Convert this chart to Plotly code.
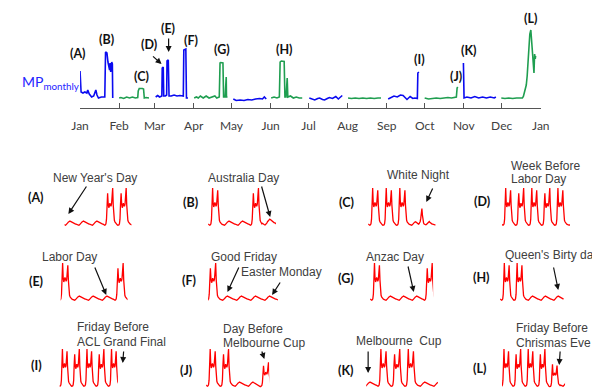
import plotly.graph_objects as go

W, H = 600, 389
OFF = 8  # page body margin of the exported html

# ---------------- top panel data (day of year, MP value) ----------------
MONTH_TICKS = [0, 31, 59, 90, 120, 151, 181, 212, 243, 273, 304, 334, 365]
MONTH_LABELS = ["Jan", "Feb", "Mar", "Apr", "May", "Jun", "Jul", "Aug", "Sep", "Oct", "Nov", "Dec", "Jan"]

JAN_DAY = [0, 0.8, 2.3, 3.8, 5.4, 6.1, 7.3, 9.2, 10.8, 12.5, 13.4, 14.6, 16.9, 19.6, 20.2, 21.3, 22.1, 22.8, 23.4, 23.8, 24.3, 25.1, 25.6, 25.9]
JAN_MP = [37, 16, 15, 16, 15, 18, 14, 11, 12, 18, 13, 10, 11, 11, 56, 55, 46, 43, 38, 45, 36, 46, 44, 10]
FEB_DAY = [31, 32.3, 34.6, 36.9, 39.2, 41.5, 43.8, 45.7, 46.1, 46.9, 49.4, 50.3, 50.9, 52.3, 54.6]
FEB_MP = [10, 10.5, 9.5, 11, 10, 11, 10, 10.5, 17, 19.5, 19.5, 19, 10, 10.5, 10]
MAR_DAY = [59.9, 61.5, 63, 64.2, 64.8, 65.1, 65.9, 66.3, 67.6, 68.6, 68.9, 69.9, 70.5, 72.2, 74.5, 76.8, 79.1, 81.8, 82.2, 83.8, 84.3, 85.5]
MAR_MP = [11, 12.5, 11, 12, 12, 40, 41, 12, 12, 13, 47, 48, 12, 12, 13, 12, 12.5, 12, 58, 59, 10, 10]
APR_DAY = [90.4, 92.2, 93.7, 95.3, 97.6, 99.9, 102.2, 104.5, 106.8, 108.3, 110.3, 110.9, 111.4, 113.2, 113.7, 114.9, 115.3, 115.8, 116.0, 116.8]
APR_MP = [10, 11, 10, 12, 10, 12, 10, 11, 12, 10, 11, 45, 45.5, 45, 11, 11, 31, 31, 11, 11]
MAY_DAY = [121.4, 123.7, 126.8, 129.9, 132.9, 136, 139.1, 142.2, 144.5, 146, 147.5]
MAY_MP = [9, 7.5, 8, 7.5, 8.5, 8, 9, 9.5, 9, 11, 9]
JUN_DAY = [151.4, 153.7, 156, 157.9, 158.5, 159.4, 161.7, 162.3, 163.2, 163.6, 164.1, 164.6, 166.7, 169, 171.3, 173.6, 176]
JUN_MP = [10, 11, 10, 11, 46, 47, 46.5, 11, 11, 30, 30, 11, 12, 10, 11, 10, 10]
JUL_DAY = [181.6, 183.6, 185.9, 188.3, 189.8, 192.1, 193.7, 195.9, 197.5, 200, 202.6, 204.6, 206.5, 207.7]
JUL_MP = [10, 9, 8, 9.5, 10, 8.5, 8, 9.5, 10.5, 9.5, 11.5, 9, 11.5, 12.5]
AUG_DAY = [212.3, 215, 218, 221, 224, 227, 230, 233, 236, 238.4]
AUG_MP = [10, 9.5, 10, 9.5, 10, 9.5, 10, 9.5, 10, 10]
SEP_DAY = [244.1, 246.1, 248.7, 251.3, 253.8, 255.9, 257.4, 259, 261.5, 263.6, 265.3, 267.2, 267.6, 268.4]
SEP_MP = [9, 10.5, 12, 11, 13, 12.5, 11, 8.5, 11.5, 9.5, 10, 9.5, 35, 36]
OCT_DAY = [273, 276.1, 279.2, 282.2, 285.3, 288.3, 291.4, 294.3, 296.6, 298.1, 298.7, 299.2]
OCT_MP = [10, 9, 9.5, 10, 9.5, 10, 10.5, 10, 11, 11, 20, 21]
NOV_DAY = [303.7, 304.2, 306.5, 309.7, 312.7, 315.8, 318.9, 321.9, 325, 328.1, 329.4]
NOV_MP = [45, 10, 11, 10, 11.5, 10, 11, 10, 11, 10, 11]
DEC_DAY = [333.7, 336.6, 339.6, 342.7, 345.8, 348.9, 350.4, 351.2, 352.5, 353.5, 354.2, 355.0, 355.8, 356.3, 357.1, 357.5, 357.8, 358.3, 358.8, 359.2, 359.6, 360.1, 360.6, 360.9]
DEC_MP = [10, 9.5, 10, 9.5, 10, 9.5, 10, 11.5, 19.5, 23, 32, 50, 66, 74, 78, 72, 64, 57, 50, 42, 35, 54, 49, 52]

BLUE = "#0a0af0"
GREEN = "#1f9e50"
SEGMENTS = [
    (JAN_DAY, JAN_MP, BLUE), (FEB_DAY, FEB_MP, GREEN), (MAR_DAY, MAR_MP, BLUE),
    (APR_DAY, APR_MP, GREEN), (MAY_DAY, MAY_MP, BLUE), (JUN_DAY, JUN_MP, GREEN),
    (JUL_DAY, JUL_MP, BLUE), (AUG_DAY, AUG_MP, GREEN), (SEP_DAY, SEP_MP, BLUE),
    (OCT_DAY, OCT_MP, GREEN), (NOV_DAY, NOV_MP, BLUE), (DEC_DAY, DEC_MP, GREEN),
]

# ---------------- bottom panels: hourly day profiles ----------------
WORK_A = [0.05, 0.03, 0.02, 0.02, 0.03, 0.06, 0.18, 0.62, 1.00, 0.60, 0.50, 0.55, 0.62, 0.58, 0.52, 0.56, 0.78, 0.94, 0.55, 0.25, 0.15, 0.11, 0.08, 0.06]
WORK_B = [0.05, 0.03, 0.02, 0.02, 0.03, 0.06, 0.18, 0.60, 0.86, 0.58, 0.48, 0.52, 0.60, 0.56, 0.52, 0.58, 0.80, 1.00, 0.55, 0.25, 0.15, 0.11, 0.08, 0.06]
REST = [0.05, 0.04, 0.03, 0.02, 0.02, 0.02, 0.03, 0.04, 0.06, 0.08, 0.10, 0.12, 0.13, 0.13, 0.12, 0.11, 0.10, 0.09, 0.08, 0.07, 0.07, 0.06, 0.06, 0.05]
WN_SAT = [0.05, 0.04, 0.03, 0.02, 0.02, 0.02, 0.03, 0.04, 0.06, 0.08, 0.10, 0.11, 0.11, 0.10, 0.08, 0.06, 0.05, 0.05, 0.06, 0.08, 0.12, 0.20, 0.32, 0.46]
WN_SUN = [0.28, 0.14, 0.08, 0.05, 0.04, 0.03, 0.03, 0.04, 0.06, 0.09, 0.11, 0.12, 0.12, 0.10, 0.08, 0.07, 0.06, 0.05, 0.05, 0.04, 0.04, 0.04, 0.03, 0.03]
SHAPES = {"WA": WORK_A, "WB": WORK_B, "R": REST, "WNS": WN_SAT, "WNU": WN_SUN}

PANEL_A = [("R", 1.0), ("R", 1.0), ("R", 1.0), ("WB", 1.0), ("WB", 1.0), ("R", 1.0)]
PANEL_B = [("WA", 1.0), ("R", 1.0), ("R", 1.0), ("WB", 1.0), ("R", 1.4), ("R", 1.0)]
PANEL_C = [("WA", 1.0), ("WA", 1.0), ("WA", 1.0), ("WNS", 1.0), ("WNU", 1.0)]
PANEL_D = [("WA", 1.0), ("WB", 1.0), ("WA", 1.0), ("WB", 1.0), ("WA", 1.0), ("R", 1.0)]
PANEL_E = [("WA", 1.0), ("R", 1.0), ("R", 1.0), ("R", 1.0), ("WB", 1.0), ("R", 1.0)]
PANEL_F = [("WB", 1.0), ("R", 1.0), ("R", 1.0), ("R", 1.0), ("R", 1.0), ("R", 1.0)]
PANEL_G = [("WA", 1.0), ("R", 1.0), ("R", 1.0), ("R", 1.0), ("WB", 1.0)]
PANEL_H = [("WA", 1.0), ("WA", 1.0), ("R", 1.0), ("R", 1.0), ("R", 1.0)]
PANEL_I = [("WA", 1.0), ("WB", 1.0), ("WA", 1.0), ("WB", 1.0), ("WA", 1.0)]
PANEL_J = [("WA", 1.0), ("WB", 1.0), ("R", 1.0), ("R", 1.0), ("WB", 0.65)]
PANEL_K = [("R", 1.0), ("WA", 1.0), ("WB", 1.0), ("WA", 1.0), ("R", 1.0), ("R", 1.0)]
PANEL_L = [("WA", 1.0), ("WB", 1.0), ("WA", 1.0), ("WB", 1.0), ("WA", 0.6), ("R", 1.0)]

PANELS = [
    (PANEL_A, (0.14, 5.1), (57, 126), 0), (PANEL_B, (0.0, 5.0), (205, 275), 0),
    (PANEL_C, (0.0, 5.0), (370, 440), 0), (PANEL_D, (0.05, 5.25), (508, 578), 0),
    (PANEL_E, (0.19, 5.03), (53, 122), 1), (PANEL_F, (0.17, 5.13), (205, 277), 1),
    (PANEL_G, (0.0, 4.78), (372, 437), 1), (PANEL_H, (0.0, 5.0), (506, 572), 1),
    (PANEL_I, (0.11, 4.85), (52, 112), 2), (PANEL_J, (0.03, 4.76), (203, 268), 2),
    (PANEL_K, (0.26, 5.5), (368, 442), 2), (PANEL_L, (0.17, 5.37), (508, 573), 2),
]
ROWS = [(188, 226), (263, 301), (349, 387)]  # (peak pixel, base pixel)


def px(x):
    return (x - OFF) / W


def py(y):
    return 1 - (y - OFF) / H


fig = go.Figure()

for xs, ys, col in SEGMENTS:
    fig.add_trace(go.Scatter(x=xs, y=ys, mode="lines", line=dict(color=col, width=1.6),
                             xaxis="x", yaxis="y", showlegend=False, hoverinfo="skip"))

layout_axes = {}
for i, (seq, rng, (x0, x1), row) in enumerate(PANELS):
    n = i + 2
    xs, ys = [], []
    for d, (name, sc) in enumerate(seq):
        for h, v in enumerate(SHAPES[name]):
            xs.append(d + h / 24)
            ys.append(v * sc)
    fig.add_trace(go.Scatter(x=xs, y=ys, mode="lines", line=dict(color="#ff0000", width=1.3),
                             xaxis=f"x{n}", yaxis=f"y{n}", showlegend=False, hoverinfo="skip"))
    top, base = ROWS[row]
    hgt = base - top
    bot_px = min(base + 0.1 * hgt, H + OFF)
    top_px = top - 0.1 * hgt
    lo = -(bot_px - base) / hgt
    hi = 1 + (top - top_px) / hgt
    layout_axes[f"xaxis{n}"] = dict(domain=[px(x0), px(x1)], range=list(rng), visible=False,
                                    anchor=f"y{n}", fixedrange=True)
    layout_axes[f"yaxis{n}"] = dict(domain=[max(0.0, py(bot_px)), py(top_px)],
                                    range=[lo, hi], visible=False, anchor=f"x{n}", fixedrange=True)

fig.update_layout(
    width=W, height=H, margin=dict(l=0, r=0, t=0, b=0),
    paper_bgcolor="white", plot_bgcolor="white", showlegend=False,
    xaxis=dict(domain=[px(73), px(548)], range=[0, 365], showline=True, linecolor="#555555",
               linewidth=1.3, ticks="inside", ticklen=5, tickcolor="#555555", tickwidth=1.3,
               tickvals=MONTH_TICKS, ticktext=MONTH_LABELS, showgrid=False, zeroline=False,
               tickfont=dict(family="Lato", size=12, color="#404040"), ticklabelstandoff=6,
               fixedrange=True, anchor="y"),
    yaxis=dict(domain=[py(108), py(8)], range=[0, 100], visible=False, fixedrange=True, anchor="x"),
    **layout_axes,
)

anns = []


def label(x, y, text, size=12.5):
    anns.append(dict(x=px(x), y=py(y), xref="paper", yref="paper", text=f"<b>{text}</b>",
                     showarrow=False, font=dict(family="Lato", size=size, color="#111111"),
                     xanchor="center", yanchor="middle"))


def note(x, y, text, anchor="center"):
    anns.append(dict(x=px(x), y=py(y), xref="paper", yref="paper", text=text, showarrow=False,
                     font=dict(family="Liberation Sans", size=12, color="#404040"),
                     xanchor=anchor, yanchor="middle"))


def arrow(tx, ty, hx, hy):
    anns.append(dict(x=px(hx), y=py(hy), xref="paper", yref="paper", text="", showarrow=True,
                     ax=tx - hx, ay=ty - hy, arrowhead=2, arrowsize=1, arrowwidth=1.2,
                     arrowcolor="#111111", standoff=0, startstandoff=0))


TOP_LABELS = [("(A)", 71, 53), ("(B)", 100, 39), ("(C)", 136, 77), ("(D)", 144, 45), ("(E)", 164, 29),
              ("(F)", 187, 40), ("(G)", 219, 49), ("(H)", 284, 50), ("(I)", 423, 60), ("(J)", 461, 77),
              ("(K)", 473, 51), ("(L)", 537, 19)]
for t, x, y in TOP_LABELS:
    label(x, y, t)
arrow(147, 55, 157, 64)
arrow(164.3, 37, 164.3, 52)

anns.append(dict(x=px(11), y=py(82), xref="paper", yref="paper", text="MP<sub>monthly</sub>",
                 showarrow=False, font=dict(family="Lato", size=14, color="#2424ff"),
                 xanchor="left", yanchor="middle"))

BOTTOM_LABELS = [("(A)", 28, 198), ("(B)", 187, 202), ("(C)", 348, 202), ("(D)", 487, 201),
                 ("(E)", 28, 281), ("(F)", 185, 280), ("(G)", 347, 278), ("(H)", 487, 277),
                 ("(I)", 28, 365), ("(J)", 182, 370), ("(K)", 347, 370), ("(L)", 485, 368)]
for t, x, y in BOTTOM_LABELS:
    label(x, y, t)

note(88, 178, "New Year's Day")
arrow(80, 185, 61, 214)
note(242, 178, "Australia Day")
arrow(260, 185, 269, 217)
note(422, 175, "White Night")
arrow(437, 187, 430, 202)
note(515, 166, "Week Before", "left")
note(515, 179, "Labor Day", "left")

note(62, 257, "Labor Day")
arrow(88, 266, 100, 295)
note(242, 257, "Good Friday")
arrow(237, 266, 225, 292)
note(281, 272, "Easter Monday")
arrow(280, 281, 271, 295)
note(398, 257, "Anzac Day")
arrow(411, 265, 417, 292)
note(509, 255, "Queen's Birty day", "left")
arrow(561, 266, 566, 290)

note(68, 327, "Friday Before", "left")
note(68, 342, "ACL Grand Final", "left")
arrow(118, 350, 117, 363)
note(218, 329, "Day Before", "left")
note(218, 343, "Melbourne Cup", "left")
arrow(260, 350, 263, 359)
note(402, 341, "Melbourne  Cup")
arrow(370, 350, 370, 373)
note(520, 328, "Friday Before", "left")
note(520, 343, "Chrismas Eve", "left")
arrow(568, 350, 567, 365)

fig.update_layout(annotations=anns)
fig.write_html("out.html")
